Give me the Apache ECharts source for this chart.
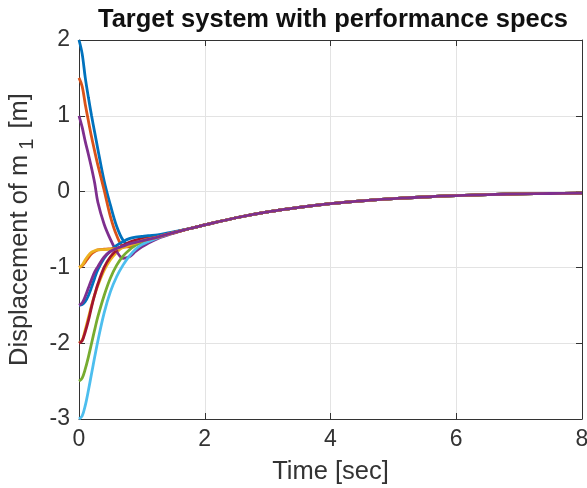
<!DOCTYPE html>
<html>
<head>
<meta charset="utf-8">
<script src="https://cdn.jsdelivr.net/npm/echarts@6/dist/echarts.min.js"></script>
<style>html,body{margin:0;padding:0;background:#fff}#c{width:587px;height:488px}</style>
</head>
<body>
<div id="c"></div>
<script>
// Time samples (s) for the transient part and the common tail
const T_HEAD = [0, 0.05, 0.1, 0.15, 0.2, 0.25, 0.3, 0.4, 0.5, 0.6, 0.7, 0.8, 0.9, 1.0, 1.1, 1.25, 1.5];
const T_TAIL = [1.75, 2, 2.5, 3, 3.5, 4, 4.5, 5, 5.5, 6, 6.5, 7, 7.5, 8];
const Y_TAIL = [-0.49, -0.44, -0.345, -0.268, -0.207, -0.158, -0.122, -0.093, -0.071, -0.052, -0.04, -0.031, -0.025, -0.02];

// Transient displacement values for each trajectory
const y_p2     = [2.0, 1.82, 1.5, 1.24, 1.0, 0.78, 0.56, 0.14, -0.18, -0.46, -0.64, -0.71, -0.68, -0.64, -0.61, -0.59, -0.54];
const y_p15    = [1.5, 1.39, 1.15, 0.93, 0.72, 0.53, 0.35, 0.02, -0.33, -0.58, -0.72, -0.73, -0.69, -0.65, -0.63, -0.6, -0.54];
const y_m2b    = [-2.0, -1.96, -1.82, -1.66, -1.5, -1.36, -1.24, -1.04, -0.9, -0.8, -0.73, -0.69, -0.66, -0.64, -0.62, -0.6, -0.54];
const y_p1     = [1.0, 0.85, 0.66, 0.49, 0.31, 0.11, -0.14, -0.43, -0.63, -0.79, -0.88, -0.86, -0.79, -0.73, -0.68, -0.62, -0.55];
const y_m25    = [-2.5, -2.46, -2.34, -2.18, -2.0, -1.82, -1.65, -1.37, -1.14, -0.97, -0.85, -0.77, -0.71, -0.67, -0.64, -0.6, -0.54];
const y_m3     = [-3.0, -2.96, -2.82, -2.62, -2.4, -2.18, -1.97, -1.6, -1.32, -1.12, -0.97, -0.85, -0.76, -0.7, -0.66, -0.61, -0.54];
const y_m2a    = [-2.0, -1.97, -1.85, -1.7, -1.52, -1.36, -1.22, -1.0, -0.86, -0.77, -0.71, -0.67, -0.64, -0.62, -0.61, -0.59, -0.54];
const y_m15a   = [-1.5, -1.49, -1.45, -1.37, -1.26, -1.14, -1.03, -0.88, -0.78, -0.71, -0.66, -0.62, -0.6, -0.59, -0.58, -0.57, -0.53];
const y_m1b    = [-1.0, -0.98, -0.93, -0.87, -0.82, -0.79, -0.77, -0.76, -0.755, -0.75, -0.73, -0.7, -0.67, -0.645, -0.625, -0.6, -0.54];
const y_m1a    = [-1.0, -0.97, -0.9, -0.84, -0.8, -0.78, -0.77, -0.765, -0.76, -0.755, -0.74, -0.71, -0.68, -0.65, -0.63, -0.6, -0.54];
const y_m15b   = [-1.5, -1.47, -1.38, -1.27, -1.16, -1.06, -0.99, -0.86, -0.79, -0.75, -0.72, -0.69, -0.67, -0.65, -0.63, -0.6, -0.54];

const SERIES_Y = [y_p2, y_p15, y_m2b, y_p1, y_m25, y_m3, y_m2a, y_m15a, y_m1b, y_m1a, y_m15b];
const COLORS = ['#0072BD', '#D95319', '#EDB120', '#7E2F8E', '#77AC30', '#4DBEEE', '#A2142F',
                '#0072BD', '#D95319', '#EDB120', '#7E2F8E'];

const X_TICKS = [0, 2, 4, 6, 8];
const Y_TICKS = [-3, -2, -1, 0, 1, 2];

const T_ALL = T_HEAD.concat(T_TAIL);
const series = SERIES_Y.map((ys, i) => ({
  type: 'line',
  data: T_ALL.map((t, k) => [t, k < ys.length ? ys[k] : Y_TAIL[k - ys.length]]),
  smooth: 0.35,
  showSymbol: false,
  lineStyle: { color: COLORS[i], width: 2.8 },
  z: 3 + i
}));

const FONT = '"Liberation Sans", Arial, Helvetica, sans-serif';
const TXT = '#333333';
const AX = '#333333';

const chart = echarts.init(document.getElementById('c'), null, { renderer: 'canvas' });
chart.setOption({
  animation: false,
  backgroundColor: '#fff',
  title: {
    text: 'Target system with performance specs',
    left: 328, top: 2, textAlign: 'center',
    textStyle: { fontFamily: FONT, fontSize: 25.5, fontWeight: 'bold', color: '#111' }
  },
  grid: { left: 79, right: 5, top: 40, bottom: 69, containLabel: false, outerBoundsMode: 'none' },
  xAxis: [{
    type: 'value', min: 0, max: 8, interval: 2,
    name: 'Time [sec]', nameLocation: 'middle', nameGap: 40,
    nameTextStyle: { fontFamily: FONT, fontSize: 25.5, color: TXT },
    axisLine: { show: true, onZero: false, lineStyle: { color: AX, width: 1 } },
    axisTick: { show: true, inside: true, length: 6, lineStyle: { color: AX } },
    axisLabel: { fontFamily: FONT, fontSize: 23, color: TXT, margin: 9,
      formatter: v => X_TICKS.includes(v) ? String(v) : '' },
    splitLine: { show: true, lineStyle: { color: '#e3e3e3', width: 1 } }
  }, {
    type: 'value', min: 0, max: 8, interval: 2, position: 'top',
    axisLine: { show: true, onZero: false, lineStyle: { color: AX, width: 1 } },
    axisTick: { show: true, inside: true, length: 6, lineStyle: { color: AX } },
    axisLabel: { show: false }, splitLine: { show: false }
  }],
  yAxis: [{
    type: 'value', min: -3, max: 2, interval: 1,
    name: '{a|Displacement of m}{s|1}{a| [m]}', nameLocation: 'middle', nameGap: 42,
    nameTextStyle: { fontFamily: FONT, fontSize: 25.5, color: TXT,
      rich: { a: { fontFamily: FONT, fontSize: 25.5, color: TXT },
              s: { fontFamily: FONT, fontSize: 20, color: TXT, padding: [14, 3, 0, 5] } } },
    axisLine: { show: true, onZero: false, lineStyle: { color: AX, width: 1 } },
    axisTick: { show: true, inside: true, length: 6, lineStyle: { color: AX } },
    axisLabel: { fontFamily: FONT, fontSize: 23, color: TXT, margin: 9,
      formatter: v => Y_TICKS.includes(v) ? String(v) : '' },
    splitLine: { show: true, lineStyle: { color: '#e3e3e3', width: 1 } }
  }, {
    type: 'value', min: -3, max: 2, interval: 1, position: 'right',
    axisLine: { show: true, onZero: false, lineStyle: { color: AX, width: 1 } },
    axisTick: { show: true, inside: true, length: 6, lineStyle: { color: AX } },
    axisLabel: { show: false }, splitLine: { show: false }
  }],
  series: series
});
</script>
</body>
</html>
